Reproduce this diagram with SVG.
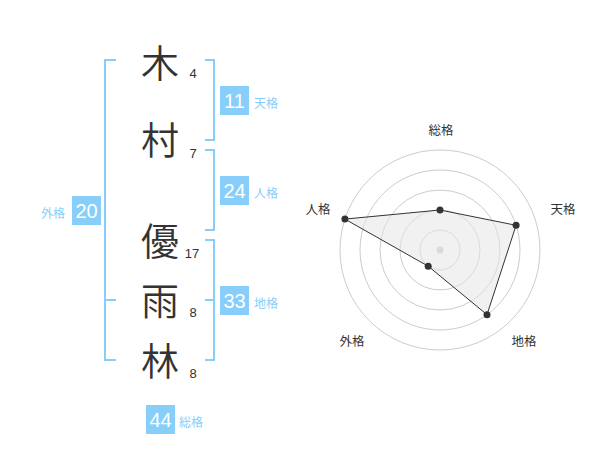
<svg xmlns="http://www.w3.org/2000/svg" width="600" height="470" viewBox="0 0 600 470">
<style>
.ch{font-family:"Noto Sans CJK JP","Noto Sans CJK SC",sans-serif;font-size:38px;font-weight:350;fill:#333;text-anchor:middle}
.num{font-family:"Liberation Sans",Arial,sans-serif;font-size:13px;fill:#333;text-anchor:middle}
.box{fill:#87cefa}
.bn{font-family:"Liberation Sans",Arial,sans-serif;font-size:20px;fill:#fff;text-anchor:middle}
.lb{font-family:"Noto Sans CJK JP","Noto Sans CJK SC",sans-serif;font-size:12px;fill:#87cefa}
.br{fill:none;stroke:#87cefa;stroke-width:2}
.ring{fill:none;stroke:#cccccc;stroke-width:1}
.rl{font-family:"Noto Sans CJK JP","Noto Sans CJK SC",sans-serif;font-size:12.5px;fill:#333;text-anchor:middle}
.pt{fill:#333}
</style>
<rect width="600" height="470" fill="#fff"/>
<g id="connectors">
<path class="br" d="M116,60 H105 V360 H116 M105,300 H116"/>
<path class="br" d="M205,60 H214 V140 H205"/>
<path class="br" d="M205,150 H214 V230 H205"/>
<path class="br" d="M205,240 H214 V360 H205 M205,300 H214"/>
</g>
<g id="char-ki"><text class="ch" x="160" y="77">木</text><text class="num" x="193" y="78">4</text></g>
<g id="char-mura"><text class="ch" x="160" y="154">村</text><text class="num" x="193" y="158">7</text></g>
<g id="char-yu"><text class="ch" x="160" y="255">優</text><text class="num" x="192" y="258">17</text></g>
<g id="char-ame"><text class="ch" x="160" y="315">雨</text><text class="num" x="193" y="317">8</text></g>
<g id="char-hayashi"><text class="ch" x="160" y="375">林</text><text class="num" x="193" y="378">8</text></g>
<g id="tenkaku"><rect class="box" x="220" y="86" width="29" height="29"/><text class="bn" x="234.5" y="107.5">11</text><text class="lb" x="254" y="108">天格</text></g>
<g id="jinkaku"><rect class="box" x="220" y="176" width="29" height="29"/><text class="bn" x="234.5" y="197.5">24</text><text class="lb" x="254" y="198">人格</text></g>
<g id="chikaku"><rect class="box" x="220" y="286" width="29" height="29"/><text class="bn" x="234.5" y="307.5">33</text><text class="lb" x="254" y="308">地格</text></g>
<g id="gaikaku"><rect class="box" x="72" y="196" width="29" height="29"/><text class="bn" x="86.5" y="217.5">20</text><text class="lb" x="41" y="218">外格</text></g>
<g id="soukaku"><rect class="box" x="146" y="405" width="29" height="29"/><text class="bn" x="160.5" y="426.5">44</text><text class="lb" x="179" y="427">総格</text></g>
<g id="radar">
<circle class="ring" cx="440" cy="250" r="20"/>
<circle class="ring" cx="440" cy="250" r="40"/>
<circle class="ring" cx="440" cy="250" r="60"/>
<circle class="ring" cx="440" cy="250" r="80"/>
<circle class="ring" cx="440" cy="250" r="100"/>
<circle cx="440" cy="250" r="3.5" fill="#cccccc"/>
<polygon points="440,210 516.1,225.3 487,314.7 428.2,266.2 344.9,219.1" fill="#e6e6e6" fill-opacity="0.55" stroke="#333" stroke-width="1"/>
<circle class="pt" cx="440" cy="210" r="3.5"/>
<circle class="pt" cx="516.1" cy="225.3" r="3.5"/>
<circle class="pt" cx="487" cy="314.7" r="3.5"/>
<circle class="pt" cx="428.2" cy="266.2" r="3.5"/>
<circle class="pt" cx="344.9" cy="219.1" r="3.5"/>
<text class="rl" x="441" y="135">総格</text>
<text class="rl" x="563" y="213.5">天格</text>
<text class="rl" x="524" y="346">地格</text>
<text class="rl" x="352" y="346">外格</text>
<text class="rl" x="318" y="213.5">人格</text>
</g>
</svg>
